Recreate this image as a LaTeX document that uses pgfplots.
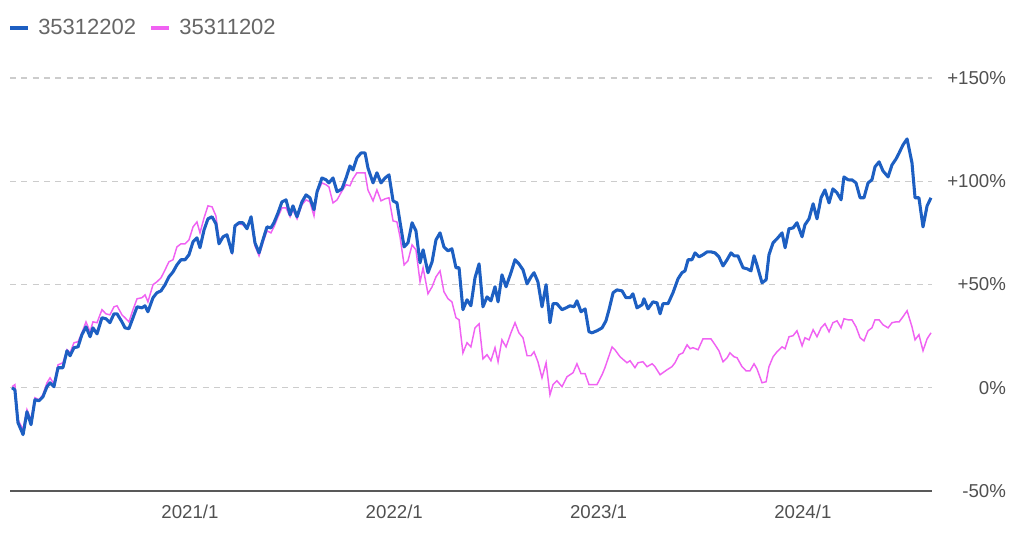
\documentclass[border=0pt]{standalone}
\usepackage{fontspec}
\setmainfont{Liberation Sans}
\usepackage{pgfplots}
\usepackage{pgfplotstable}
\pgfplotsset{compat=1.18}
\definecolor{cblue}{HTML}{1D5FC2}
\definecolor{cpink}{HTML}{F062F2}
\definecolor{cgrid}{HTML}{CCCCCC}
\definecolor{ctext}{HTML}{505050}
\definecolor{clegend}{HTML}{666666}

\pgfplotstableread{
x y
2020.129 0
2020.143 -1.0
2020.158 -16.9
2020.183 -22.7
2020.202 -11.6
2020.222 -17.9
2020.241 -5.8
2020.261 -6.3
2020.280 -4.4
2020.300 0.5
2020.315 2.4
2020.334 0.5
2020.354 9.7
2020.378 9.7
2020.398 17.9
2020.413 15.5
2020.432 19.4
2020.452 19.8
2020.471 25.7
2020.491 29.5
2020.511 24.7
2020.525 29.0
2020.545 26.1
2020.569 33.9
2020.589 33.4
2020.608 31.5
2020.628 35.8
2020.643 35.8
2020.667 31.9
2020.682 29.0
2020.701 28.6
2020.721 33.9
2020.741 39.2
2020.765 38.7
2020.780 39.7
2020.794 36.8
2020.819 43.6
2020.838 46.0
2020.858 46.9
2020.878 49.9
2020.897 53.7
2020.917 56.1
2020.936 59.5
2020.956 62.0
2020.976 62.0
2020.995 64.4
2021.015 70.7
2021.034 72.6
2021.049 67.8
2021.069 76.5
2021.088 81.8
2021.108 82.8
2021.127 79.4
2021.142 69.7
2021.162 73.1
2021.181 74.1
2021.206 65.3
2021.220 78.4
2021.240 79.9
2021.259 79.9
2021.279 77.0
2021.299 82.8
2021.318 70.2
2021.338 65.3
2021.357 71.6
2021.377 77.9
2021.396 77.4
2021.411 79.9
2021.431 84.7
2021.450 90.0
2021.470 91.0
2021.490 83.7
2021.504 88.1
2021.524 82.8
2021.548 90.0
2021.568 93.4
2021.587 92.0
2021.607 86.2
2021.622 94.9
2021.646 101.6
2021.666 100.7
2021.680 99.2
2021.700 101.6
2021.720 94.9
2021.744 96.3
2021.764 101.6
2021.783 107.4
2021.798 105.5
2021.817 111.3
2021.837 113.7
2021.857 113.7
2021.871 106.5
2021.896 99.2
2021.915 104.1
2021.935 99.2
2021.955 101.6
2021.974 103.1
2021.994 90.5
2022.013 89.5
2022.028 80.3
2022.048 68.2
2022.067 70.2
2022.087 79.9
2022.106 76.0
2022.126 60.5
2022.141 66.8
2022.165 55.7
2022.185 61.0
2022.204 71.6
2022.224 75.0
2022.243 68.2
2022.263 66.3
2022.282 67.3
2022.302 58.1
2022.317 58.1
2022.336 37.8
2022.356 42.6
2022.375 39.7
2022.395 53.2
2022.415 60.0
2022.434 39.2
2022.454 44.0
2022.473 42.1
2022.493 48.9
2022.508 41.6
2022.527 54.7
2022.547 48.9
2022.571 55.7
2022.591 62.0
2022.610 60.0
2022.630 57.1
2022.650 50.3
2022.669 53.7
2022.684 55.7
2022.703 51.3
2022.723 39.2
2022.743 49.9
2022.762 31.5
2022.777 40.7
2022.796 40.7
2022.821 37.8
2022.841 38.7
2022.860 39.7
2022.880 39.2
2022.894 42.1
2022.914 36.8
2022.934 38.2
2022.953 27.1
2022.968 26.6
2022.992 27.6
2023.017 29.0
2023.036 32.4
2023.051 37.8
2023.071 46.0
2023.090 47.4
2023.115 46.9
2023.134 43.6
2023.154 43.6
2023.168 45.5
2023.188 38.7
2023.213 40.2
2023.222 43.1
2023.242 38.2
2023.266 41.6
2023.286 41.1
2023.301 35.8
2023.315 40.7
2023.340 40.7
2023.364 46.0
2023.389 52.8
2023.408 55.7
2023.423 56.6
2023.438 62.0
2023.457 62.0
2023.472 65.3
2023.492 63.4
2023.511 64.4
2023.531 65.8
2023.550 65.8
2023.570 65.3
2023.589 63.4
2023.609 59.0
2023.629 62.0
2023.648 65.3
2023.663 63.9
2023.682 63.9
2023.707 58.1
2023.727 57.6
2023.746 56.6
2023.761 63.9
2023.775 59.5
2023.800 50.8
2023.820 52.3
2023.834 64.4
2023.854 70.2
2023.873 72.1
2023.898 75.0
2023.913 67.8
2023.932 77.0
2023.952 77.4
2023.971 79.9
2023.996 73.1
2024.010 78.9
2024.030 81.8
2024.050 89.1
2024.069 81.8
2024.089 92.0
2024.108 95.8
2024.128 89.5
2024.147 96.3
2024.167 94.4
2024.187 91.0
2024.201 102.1
2024.221 100.7
2024.240 100.7
2024.260 99.2
2024.280 92.0
2024.299 92.0
2024.319 99.2
2024.338 100.7
2024.353 107.0
2024.373 109.4
2024.392 105.0
2024.417 102.1
2024.436 107.9
2024.456 110.8
2024.471 113.7
2024.490 117.6
2024.510 120.5
2024.534 108.9
2024.549 92.0
2024.568 92.0
2024.588 77.9
2024.608 88.1
2024.627 92.0
}\bluedata

\pgfplotstableread{
x y
2020.129 0.5
2020.143 1.5
2020.158 -15.5
2020.183 -20.3
2020.202 -10.6
2020.222 -15.5
2020.241 -4.8
2020.261 -5.8
2020.280 -3.4
2020.300 2.4
2020.315 4.8
2020.334 1.9
2020.354 11.1
2020.378 12.1
2020.398 18.4
2020.413 16.9
2020.432 21.8
2020.452 22.3
2020.471 26.6
2020.491 31.9
2020.511 27.1
2020.525 31.9
2020.545 31.5
2020.569 37.8
2020.589 35.8
2020.608 35.3
2020.628 39.2
2020.643 39.7
2020.667 35.3
2020.682 33.9
2020.701 31.9
2020.721 37.8
2020.741 43.1
2020.765 43.6
2020.780 45.0
2020.794 41.6
2020.819 49.9
2020.838 51.3
2020.858 53.2
2020.878 57.1
2020.897 61.0
2020.917 62.0
2020.936 68.2
2020.956 69.7
2020.976 69.7
2020.995 71.6
2021.015 77.9
2021.034 80.3
2021.049 75.0
2021.069 82.3
2021.088 88.1
2021.108 87.6
2021.127 83.2
2021.142 71.6
2021.162 73.1
2021.181 73.6
2021.206 65.8
2021.220 77.9
2021.240 79.4
2021.259 78.9
2021.279 77.0
2021.299 81.3
2021.318 68.7
2021.338 63.9
2021.357 70.2
2021.377 76.0
2021.396 75.0
2021.411 77.9
2021.431 82.8
2021.450 87.1
2021.470 87.1
2021.490 82.8
2021.504 86.2
2021.524 81.8
2021.548 88.6
2021.568 91.0
2021.587 90.0
2021.607 83.2
2021.622 94.4
2021.646 99.2
2021.666 98.3
2021.680 97.3
2021.700 89.5
2021.720 91.0
2021.744 95.3
2021.764 98.3
2021.783 97.8
2021.798 101.2
2021.817 104.1
2021.837 104.1
2021.857 104.1
2021.871 95.8
2021.896 90.5
2021.915 95.8
2021.935 90.5
2021.955 91.5
2021.974 92.0
2021.994 80.8
2022.013 80.3
2022.028 73.1
2022.048 59.5
2022.067 61.5
2022.087 69.2
2022.106 66.8
2022.126 51.3
2022.141 58.1
2022.165 45.5
2022.185 48.9
2022.204 53.7
2022.224 56.6
2022.243 46.5
2022.263 43.1
2022.282 41.6
2022.302 33.9
2022.317 32.9
2022.336 16.9
2022.356 21.8
2022.375 19.8
2022.395 29.0
2022.415 31.0
2022.434 14.0
2022.454 16.0
2022.473 13.1
2022.493 19.4
2022.508 12.6
2022.527 23.2
2022.547 19.8
2022.571 26.6
2022.591 31.5
2022.610 26.6
2022.630 24.2
2022.650 15.5
2022.669 15.5
2022.684 17.4
2022.703 12.6
2022.723 4.8
2022.743 12.1
2022.762 -3.4
2022.777 1.5
2022.796 3.4
2022.821 0.5
2022.845 5.3
2022.875 7.3
2022.894 11.6
2022.914 6.8
2022.934 6.8
2022.953 1.5
2022.992 1.5
2023.017 6.3
2023.031 9.7
2023.066 19.8
2023.080 18.4
2023.105 15.0
2023.139 12.1
2023.154 13.1
2023.178 9.7
2023.193 12.1
2023.217 12.6
2023.237 10.2
2023.262 11.6
2023.276 10.2
2023.301 6.3
2023.315 7.3
2023.335 8.7
2023.359 10.2
2023.374 12.1
2023.394 16.0
2023.413 16.9
2023.433 20.8
2023.448 18.9
2023.462 19.4
2023.487 18.4
2023.511 23.7
2023.531 23.7
2023.550 23.7
2023.570 20.8
2023.589 17.9
2023.609 12.6
2023.629 14.5
2023.643 16.9
2023.663 15.0
2023.678 14.5
2023.702 10.2
2023.722 8.2
2023.741 8.2
2023.761 11.6
2023.775 9.2
2023.800 2.4
2023.820 2.9
2023.834 10.2
2023.854 15.0
2023.873 17.4
2023.898 19.8
2023.913 18.9
2023.932 24.7
2023.952 25.2
2023.971 27.6
2023.996 20.3
2024.010 24.2
2024.030 23.2
2024.050 28.1
2024.069 24.7
2024.089 29.0
2024.108 31.0
2024.128 27.1
2024.147 31.5
2024.167 32.4
2024.187 29.0
2024.201 33.4
2024.221 32.9
2024.240 32.9
2024.260 29.5
2024.280 24.2
2024.299 22.7
2024.319 27.6
2024.338 29.0
2024.353 32.9
2024.373 32.9
2024.392 30.5
2024.417 29.0
2024.436 31.5
2024.456 31.9
2024.471 31.9
2024.490 34.4
2024.510 37.3
2024.534 29.5
2024.549 23.2
2024.568 25.7
2024.588 17.9
2024.608 23.7
2024.627 26.6
}\pinkdata

\begin{document}
\begin{tikzpicture}
\path[use as bounding box] (-7.5pt,-30.75pt) rectangle (760.5pt,368.25pt);
\begin{axis}[
  scale only axis,
  width=691.5pt, height=309.75pt,
  xmin=2020.119, xmax=2024.632,
  ymin=-50, ymax=150,
  axis line style={draw=none},
  major tick length=0pt,
  xtick={2021,2022,2023,2024},
  xticklabels={2021/1,2022/1,2023/1,2024/1},
  ytick={-50,0,50,100,150},
  yticklabels={-50\%,0\%,+50\%,+100\%,+150\%},
  yticklabel pos=right,
  yticklabel style={anchor=east, xshift=59pt, font=\fontsize{14}{16}\selectfont, text=ctext},
  xticklabel style={yshift=-7pt, font=\fontsize{14}{16}\selectfont, text=ctext},
  /pgf/number format/assume math mode=true,
  ymajorgrids,
  grid style={cgrid, line width=0.9pt, dash pattern=on 4.5pt off 4pt},
  clip=false,
  legend style={at={(axis description cs:0,1)}, anchor=west, yshift=37.5pt, xshift=-1.5pt,
    draw=none, fill=none, inner sep=0pt, legend columns=2,
    font=\fontsize{16.5}{19}\selectfont, text=clegend,
    /tikz/every odd column/.append style={column sep=4pt},
    /tikz/every even column/.append style={column sep=8pt}},
  legend cell align=left,
  legend image code/.code={\draw[#1, line width=3pt] (0pt,0pt) -- (13.5pt,0pt);},
]
\addlegendimage{cblue}
\addlegendentry{35312202}
\addlegendimage{cpink}
\addlegendentry{35311202}
\draw[color=black!65, line width=1.1pt] (rel axis cs:0,0) -- (rel axis cs:1,0);
\addplot[cpink, line width=1.1pt, forget plot] table[x=x, y=y] {\pinkdata};
\addplot[cblue, line width=2.3pt, line join=round, forget plot] table[x=x, y=y] {\bluedata};
\end{axis}
\end{tikzpicture}
\end{document}
